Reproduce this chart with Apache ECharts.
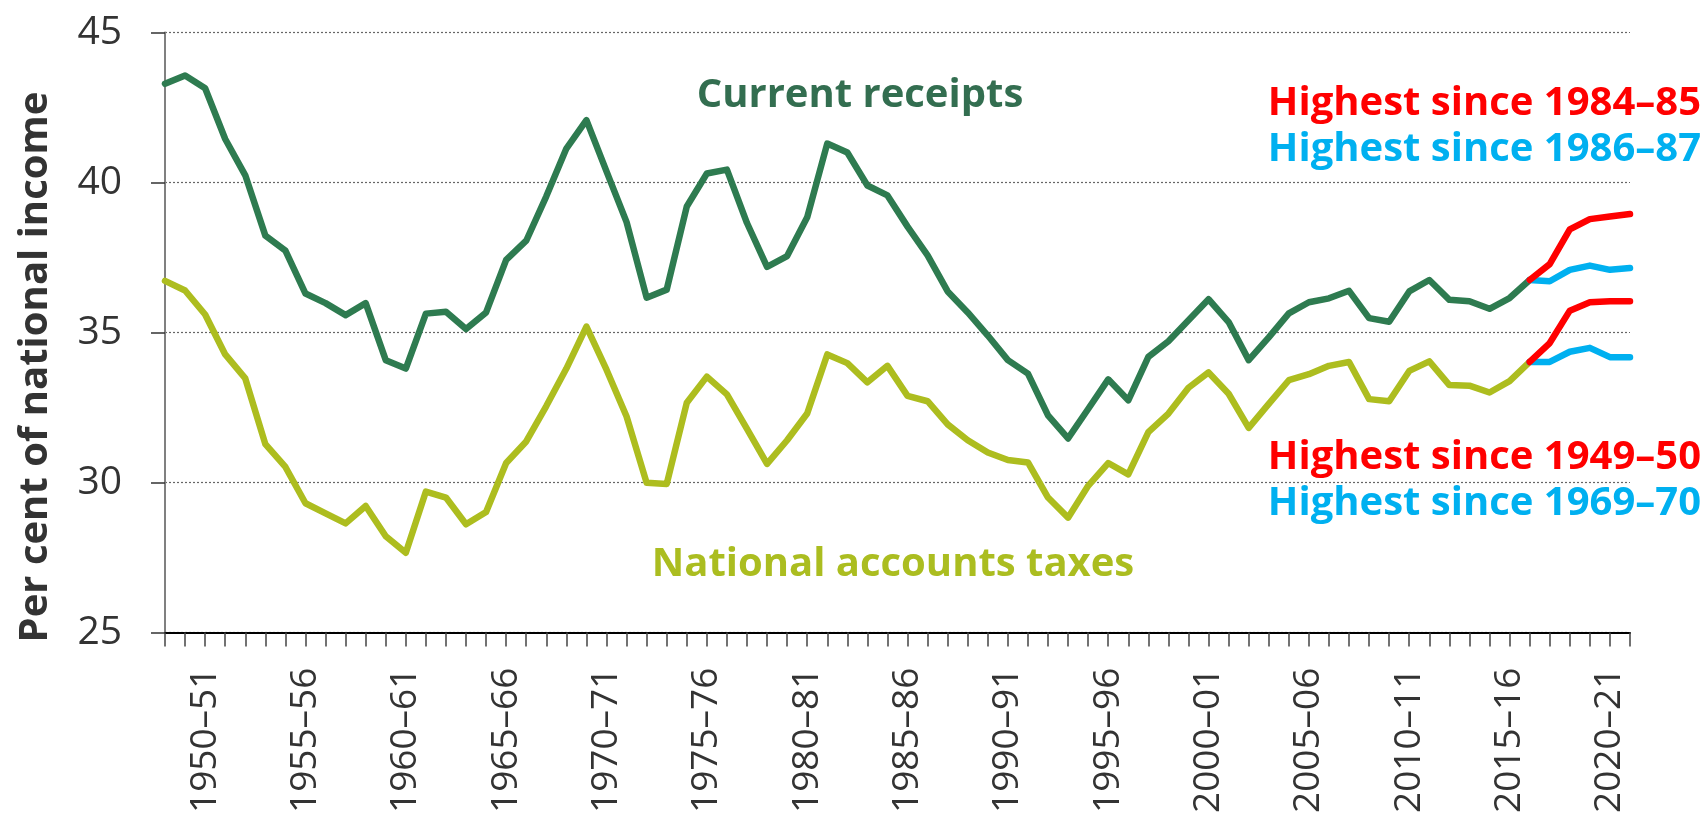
<!DOCTYPE html>
<html>
<head>
<meta charset="utf-8">
<script src="https://cdn.jsdelivr.net/npm/echarts/dist/echarts.min.js"></script>
<style>
  html, body { margin: 0; padding: 0; background: #fff; }
  #chart { width: 1706px; height: 816px; }
</style>
</head>
<body>
<div id="chart"></div>
<script>
// ---- Data ----
const categories = [
  "1948–49","1949–50","1950–51","1951–52","1952–53","1953–54","1954–55","1955–56","1956–57","1957–58",
  "1958–59","1959–60","1960–61","1961–62","1962–63","1963–64","1964–65","1965–66","1966–67","1967–68",
  "1968–69","1969–70","1970–71","1971–72","1972–73","1973–74","1974–75","1975–76","1976–77","1977–78",
  "1978–79","1979–80","1980–81","1981–82","1982–83","1983–84","1984–85","1985–86","1986–87","1987–88",
  "1988–89","1989–90","1990–91","1991–92","1992–93","1993–94","1994–95","1995–96","1996–97","1997–98",
  "1998–99","1999–00","2000–01","2001–02","2002–03","2003–04","2004–05","2005–06","2006–07","2007–08",
  "2008–09","2009–10","2010–11","2011–12","2012–13","2013–14","2014–15","2015–16","2016–17","2017–18",
  "2018–19","2019–20","2020–21","2021–22"
];

// Current receipts, 1948–49 to 2016–17 (outturn)
const currentReceipts = [
  43.29, 43.57, 43.14, 41.45, 40.24, 38.23, 37.73, 36.30, 35.98, 35.58,
  35.98, 34.08, 33.80, 35.63, 35.69, 35.12, 35.67, 37.42, 38.06, 39.54,
  41.13, 42.08, 40.37, 38.68, 36.16, 36.43, 39.20, 40.30, 40.43, 38.65,
  37.19, 37.55, 38.84, 41.30, 41.00, 39.90, 39.57, 38.53, 37.57, 36.37,
  35.67, 34.90, 34.08, 33.63, 32.24, 31.47, 32.45, 33.44, 32.74, 34.19,
  34.71, 35.41, 36.11, 35.35, 34.08, 34.84, 35.64, 36.01, 36.14, 36.39,
  35.48, 35.36, 36.37, 36.75, 36.09, 36.04, 35.79, 36.15, 36.75
];

// National accounts taxes, 1948–49 to 2016–17 (outturn)
const nationalAccountsTaxes = [
  36.72, 36.40, 35.60, 34.27, 33.47, 31.28, 30.52, 29.31, 28.97, 28.64,
  29.22, 28.21, 27.66, 29.70, 29.50, 28.61, 29.02, 30.65, 31.37, 32.55,
  33.80, 35.20, 33.76, 32.20, 29.99, 29.95, 32.66, 33.53, 32.94, 31.79,
  30.62, 31.41, 32.30, 34.27, 33.98, 33.34, 33.89, 32.89, 32.71, 31.94,
  31.41, 31.00, 30.75, 30.67, 29.50, 28.83, 29.89, 30.65, 30.27, 31.68,
  32.30, 33.16, 33.67, 32.96, 31.82, 32.62, 33.41, 33.61, 33.89, 34.02,
  32.78, 32.71, 33.72, 34.04, 33.25, 33.23, 33.00, 33.38, 34.02
];

// Projections, 2016–17 to 2021–22
const receiptsRed  = [36.75, 37.28, 38.44, 38.78, 38.87, 38.95];
const receiptsBlue = [36.75, 36.71, 37.09, 37.23, 37.09, 37.15];
const taxesRed     = [34.02, 34.65, 35.73, 36.01, 36.04, 36.04];
const taxesBlue    = [34.02, 34.02, 34.36, 34.49, 34.18, 34.18];

const annotations = {
  receiptsRed:  "Highest since 1984–85",
  receiptsBlue: "Highest since 1986–87",
  taxesRed:     "Highest since 1949–50",
  taxesBlue:    "Highest since 1969–70"
};

// ---- Build series data ----
const projStart = currentReceipts.length - 1;
function pad(arr) {
  const out = new Array(projStart).fill(null);
  return out.concat(arr);
}

const FONT = "'Open Sans', 'Noto Sans', sans-serif";
const GREEN = '#2e7b50';
const LIME = '#adbd1f';
const RED = '#ff0000';
const BLUE = '#00b0f0';

function lineSeries(name, data, color, z) {
  return {
    name: name, type: 'line', data: data, symbol: 'none', showSymbol: false,
    connectNulls: false, z: z,
    lineStyle: { color: color, width: 6.5, join: 'round', cap: 'round' },
    emphasis: { disabled: true }
  };
}

function txt(text, x, y, color, align) {
  return {
    type: 'text', x: x, y: y, silent: true,
    style: {
      text: text, fill: color, font: 'bold 40px ' + FONT,
      align: align || 'center', verticalAlign: 'middle',
      textAlign: align || 'center', textVerticalAlign: 'middle'
    }
  };
}

const chart = echarts.init(document.getElementById('chart'), null, { renderer: 'canvas' });
chart.setOption({
  animation: false,
  backgroundColor: '#fff',
  grid: { left: 165, right: 76, top: 32.5, bottom: 180.5, containLabel: false },
  xAxis: {
    type: 'category',
    data: categories,
    boundaryGap: false,
    axisLine: { show: true, lineStyle: { color: '#000', width: 2 } },
    axisTick: { show: true, interval: 0, length: 14, lineStyle: { color: '#444', width: 1.5 } },
    axisLabel: {
      interval: function (i) { return i % 5 === 2; },
      rotate: 90, margin: 35, fontSize: 37, color: '#333', fontFamily: FONT
    },
    splitLine: { show: false }
  },
  yAxis: {
    type: 'value', min: 25, max: 45, interval: 5,
    axisLine: { show: true, lineStyle: { color: '#808080', width: 2 } },
    axisTick: { show: true, length: 14, lineStyle: { color: '#333', width: 1.5 } },
    axisLabel: { margin: 43, fontSize: 39, color: '#333', fontFamily: FONT },
    splitLine: { show: true, lineStyle: { color: '#666', width: 1.2, type: [2, 2] } }
  },
  series: [
    lineSeries('National accounts taxes', nationalAccountsTaxes, LIME, 3),
    lineSeries('Current receipts', currentReceipts, GREEN, 3),
    lineSeries('Taxes (blue)', pad(taxesBlue), BLUE, 4),
    lineSeries('Receipts (blue)', pad(receiptsBlue), BLUE, 4),
    lineSeries('Taxes (red)', pad(taxesRed), RED, 5),
    lineSeries('Receipts (red)', pad(receiptsRed), RED, 5)
  ],
  graphic: [
    {
      type: 'text', x: 36, y: 367, rotation: Math.PI / 2, silent: true,
      style: {
        text: 'Per cent of national income', fill: '#333', font: 'bold 40px ' + FONT,
        align: 'center', verticalAlign: 'middle', textAlign: 'center', textVerticalAlign: 'middle'
      }
    },
    txt('Current receipts', 860, 96, '#336e50'),
    txt('National accounts taxes', 893, 565, '#abbd20'),
    txt(annotations.receiptsRed, 1701, 104, RED, 'right'),
    txt(annotations.receiptsBlue, 1701, 150, BLUE, 'right'),
    txt(annotations.taxesRed, 1701, 458, RED, 'right'),
    txt(annotations.taxesBlue, 1701, 504, BLUE, 'right')
  ]
});
</script>
</body>
</html>
